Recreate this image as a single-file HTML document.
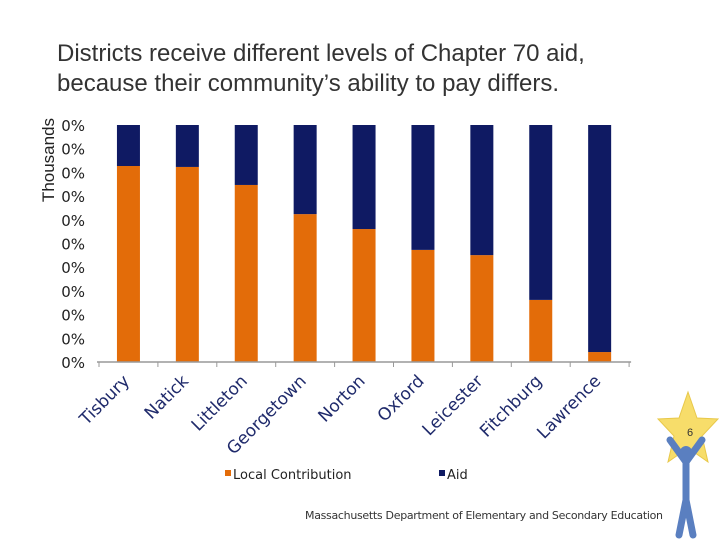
<!DOCTYPE html>
<html><head><meta charset="utf-8"><style>
body{margin:0;background:#fff;}
svg{display:block;font-family:"Liberation Sans","DejaVu Sans",sans-serif;}
</style></head><body>
<svg width="720" height="540" viewBox="0 0 720 540">
<text x="57" y="61" font-size="24" fill="#333">Districts receive different levels of Chapter 70 aid,</text>
<text x="57" y="91" font-size="24" fill="#333">because their community’s ability to pay differs.</text>
<text transform="translate(54,160) rotate(-90)" text-anchor="middle" font-size="17" fill="#222">Thousands</text>
<g id="yaxis"></g>
<g id="bars"></g>
<g id="xaxis"></g>
<g font-family="DejaVu Sans, sans-serif">
<rect x="225" y="470" width="6" height="6" fill="#e36c09"/>
<text x="233" y="479" font-size="13" fill="#222">Local Contribution</text>
<rect x="439" y="470" width="6" height="6" fill="#0f1a63"/>
<text x="447" y="479" font-size="13" fill="#222">Aid</text>
</g>
<text x="305" y="519" font-size="11" fill="#333" textLength="358" font-family="DejaVu Sans, sans-serif">Massachusetts Department of Elementary and Secondary Education</text>
<g>
<polygon points="688,392 697,418 718,419 702,436 708,462 688,448 668,462 674,436 658,419 679,418" fill="#f7dd6a" stroke="#e8c84a"/>
<text x="687" y="436" font-size="11" fill="#333">6</text>
<circle cx="686" cy="452" r="6" fill="#5a7fc0"/>
<path d="M670,440 L686,462 L702,440 M686,458 L686,500 M686,500 L679,535 M686,500 L693,535" stroke="#5a7fc0" stroke-width="7" fill="none" stroke-linecap="round"/>
</g>
</svg>
<script>
const categories=["Tisbury","Natick","Littleton","Georgetown","Norton","Oxford","Leicester","Fitchburg","Lawrence"];
const localShare=[0.827,0.823,0.747,0.624,0.561,0.473,0.451,0.262,0.042];
const aidShare=[0.173,0.177,0.253,0.376,0.439,0.527,0.549,0.738,0.958];
const yTickLabels=["0%","0%","0%","0%","0%","0%","0%","0%","0%","0%","0%"];
const NS="http://www.w3.org/2000/svg";
const X0=99,STEP=58.9,PTOP=125,PBOT=362,BW=23;
const yScale=v=>PBOT-v*(PBOT-PTOP);
const xc=i=>X0+STEP*(i+0.5);
function mk(t,a,p){const e=document.createElementNS(NS,t);for(const k in a)e.setAttribute(k,a[k]);p.appendChild(e);return e;}
const ya=document.getElementById('yaxis'),bars=document.getElementById('bars'),xa=document.getElementById('xaxis');
yTickLabels.forEach((l,i)=>{const v=i/(yTickLabels.length-1);
const t=mk('text',{x:85,y:yScale(v)+6,'text-anchor':'end','font-size':15,fill:'#222','font-family':'DejaVu Sans, sans-serif'},ya);t.textContent=l;

});
categories.forEach((c,i)=>{
const r1=mk('rect',{x:xc(i)-BW/2,y:yScale(localShare[i]),width:BW,height:yScale(0)-yScale(localShare[i]),fill:'#e36c09'},bars);


const r2=mk('rect',{x:xc(i)-BW/2,y:yScale(localShare[i]+aidShare[i]),width:BW,height:yScale(localShare[i])-yScale(localShare[i]+aidShare[i]),fill:'#0f1a63'},bars);


const t=mk('text',{transform:`translate(${xc(i)+2},${PBOT+20}) rotate(-45)`,'text-anchor':'end','font-size':17,fill:'#1f2a6b','font-family':'DejaVu Sans, sans-serif'},xa);
t.textContent=c;


});
const ax=mk('line',{x1:X0-2,y1:PBOT,x2:X0+STEP*9+2,y2:PBOT,stroke:'#999','stroke-width':1.5},xa);


for(let i=0;i<=9;i++){const tk=mk('line',{x1:X0+STEP*i,y1:PBOT,x2:X0+STEP*i,y2:PBOT+5,stroke:'#999'},xa);

}
</script>
</body></html>
